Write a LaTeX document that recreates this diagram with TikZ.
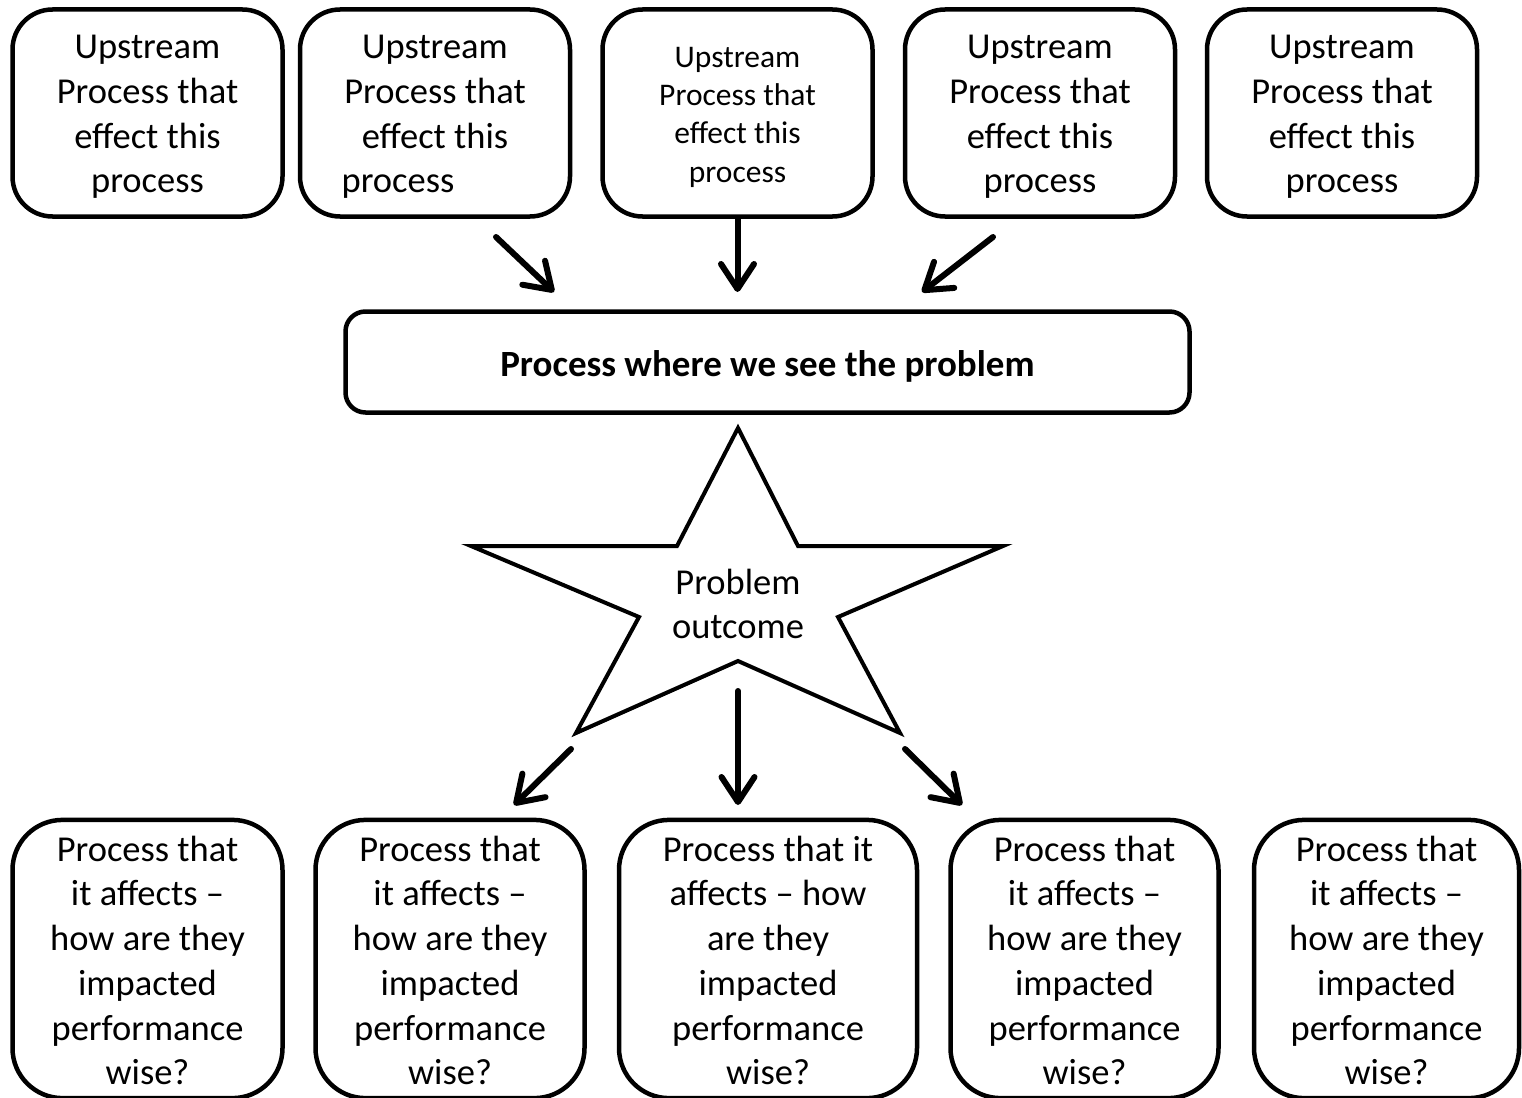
\documentclass[tikz,border=0pt]{standalone}
\usepackage{fontspec}
\setmainfont{Carlito}
\usetikzlibrary{arrows.meta}
% struts that set the first-line height inside the boxes
\newcommand{\toplift}[1]{\rule{0pt}{#1}}
\begin{document}
\begin{tikzpicture}[x=1pt,y=-1pt,
  box/.style={draw=black, line width=4.5pt, fill=white, align=center, inner sep=0pt},
  upbox/.style={box, rounded corners=40pt, minimum width=270pt, minimum height=207pt,
    font=\fontsize{36.5}{44.7}\selectfont},
  smallupbox/.style={upbox, font=\fontsize{31.5}{38.3}\selectfont},
  mainbox/.style={box, rounded corners=20pt, minimum width=844pt, minimum height=101pt,
    font=\fontsize{37}{45}\selectfont\bfseries},
  downbox/.style={box, rounded corners=50pt, minimum height=266pt,
    font=\fontsize{36.5}{44.7}\selectfont},
  flow/.style={line width=6pt, line cap=round,
    -{Straight Barb[length=25pt, width=33pt, round]}},
  starline/.style={draw=black, line width=4pt, line join=miter, fill=white}
]
\useasboundingbox (0,0) rectangle (1522,1097);

% upstream processes
\node[upbox] (u1) at (147.5,113) {\toplift{39.3pt}Upstream\\Process that\\effect this\\process\strut};
\node[upbox] (u2) at (435,113) {\toplift{39.3pt}Upstream\\Process that\\effect this\\process\strut\hspace*{74pt}};
\node[smallupbox] (u3) at (737.5,113) {\toplift{34.8pt}Upstream\\Process that\\effect this\\process\strut};
\node[upbox] (u4) at (1040,113) {\toplift{39.3pt}Upstream\\Process that\\effect this\\process\strut};
\node[upbox] (u5) at (1342,113) {\toplift{39.3pt}Upstream\\Process that\\effect this\\process\strut};

% the process showing the problem
\node[mainbox] (main) at (767.5,362) {\toplift{42pt}Process where we see the problem\strut};

% problem outcome star
\path[starline] (738,428) -- (798,546) -- (1003,546) -- (838,617) -- (900,733)
  -- (738,661) -- (576,733) -- (639,617) -- (471,546) -- (677,546) -- cycle;
\node[font=\fontsize{36.5}{44.7}\selectfont, align=center] (star) at (738,604) {Problem\\outcome};

% downstream processes
\node[downbox, minimum width=270pt] (d1) at (147.5,959) {\toplift{41.3pt}Process that\\it affects --\\how are they\\impacted\\performance\\wise?\strut};
\node[downbox, minimum width=269pt] (d2) at (450,959) {\toplift{41.3pt}Process that\\it affects --\\how are they\\impacted\\performance\\wise?\strut};
\node[downbox, minimum width=298pt] (d3) at (768,959) {\toplift{41.3pt}Process that it\\affects -- how\\are they\\impacted\\performance\\wise?\strut};
\node[downbox, minimum width=268pt] (d4) at (1084.5,959) {\toplift{41.3pt}Process that\\it affects --\\how are they\\impacted\\performance\\wise?\strut};
\node[downbox, minimum width=265pt] (d5) at (1386.5,959) {\toplift{41.3pt}Process that\\it affects --\\how are they\\impacted\\performance\\wise?\strut};

% arrow end points
\coordinate (a1s) at (496,237);
\coordinate (a1e) at (554,292);
\coordinate (a3s) at (993,237);
\coordinate (a3e) at (922,292);
\coordinate (a2e) at (737.5,292);
\coordinate (b1s) at (571,749);
\coordinate (b1e) at (514,805);
\coordinate (b2s) at (738,691);
\coordinate (b2e) at (738,805);
\coordinate (b3s) at (905,749);
\coordinate (b3e) at (962,805);

\draw[flow] (a1s) -- (a1e);
\draw[flow, line cap=butt] (u3.south) -- (a2e);
\draw[flow] (a3s) -- (a3e);
\draw[flow] (b1s) -- (b1e);
\draw[flow] (b2s) -- (b2e);
\draw[flow] (b3s) -- (b3e);
\end{tikzpicture}
\end{document}
